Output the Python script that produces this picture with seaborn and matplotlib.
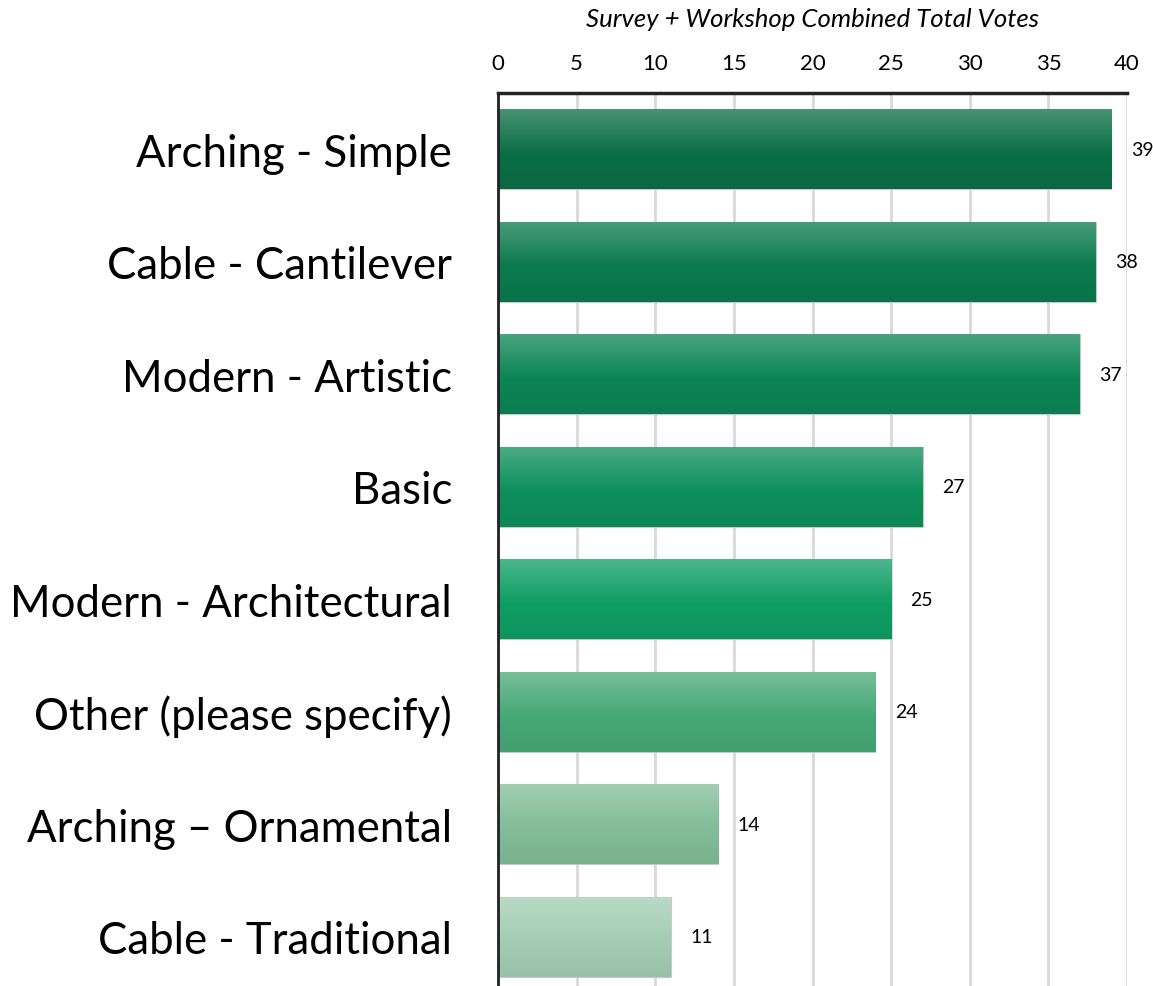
import numpy as np
import pandas as pd
import matplotlib
matplotlib.use("Agg")
import matplotlib.pyplot as plt
import matplotlib.colors as mcolors
import seaborn as sns

# data
categories = ["Arching - Simple", "Cable - Cantilever", "Modern - Artistic", "Basic",
              "Modern - Architectural", "Other (please specify)",
              "Arching \u2013 Ornamental", "Cable - Traditional"]
votes = [39, 38, 37, 27, 25, 24, 14, 11]
bar_colors = ["#0b6e46", "#0b7a4e", "#0c8556", "#0d8f5b",
              "#0e9e63", "#48a877", "#82bd98", "#a3cdb3"]
x_ticks = [0, 5, 10, 15, 20, 25, 30, 35, 40]
x_title = "Survey + Workshop Combined Total Votes"

sns.set_style("white")
plt.rcParams["font.family"] = ["Lato", "DejaVu Sans"]
plt.rcParams["text.color"] = "black"
plt.rcParams["xtick.color"] = "black"
plt.rcParams["ytick.color"] = "black"
plt.rcParams["axes.labelcolor"] = "black"

df = pd.DataFrame({"category": categories, "votes": votes})

fig = plt.figure(figsize=(11.53, 9.87), dpi=100)
ax = fig.add_axes([0.4319, -0.0071, 0.5456, 0.9119])

sns.barplot(data=df, x="votes", y="category", hue="category",
            palette=bar_colors, legend=False, width=0.71, orient="h",
            edgecolor="#c8c8c8", linewidth=0.8, ax=ax, zorder=2)


def shade(color, amount):
    c = np.array(mcolors.to_rgb(color))
    if amount > 0:
        return c + (1 - c) * amount
    return c * (1 + amount)


# vertical gradient on each bar (lighter top -> base -> slightly darker bottom)
for patch, col in zip(ax.patches, bar_colors):
    x0, y0 = patch.get_x(), patch.get_y()
    w, h = patch.get_width(), patch.get_height()
    stops = np.linspace(0, 1, 60)
    top = shade(col, 0.25)
    base = shade(col, 0.0)
    bottom = shade(col, -0.06)
    rows = []
    for s in stops:
        if s < 0.55:
            t = s / 0.55
            rows.append(top * (1 - t) + base * t)
        else:
            t = (s - 0.55) / 0.45
            rows.append(base * (1 - t) + bottom * t)
    img = np.array(rows).reshape(-1, 1, 3)
    im = ax.imshow(img, extent=[x0, x0 + w, y0 + h, y0], aspect="auto",
                   zorder=2.5, interpolation="bilinear")
    im.set_clip_path(patch)

ax.set_xlim(0, 40)
ax.set_ylim(len(categories) - 0.5, -0.5)

for cont in ax.containers:
    ax.bar_label(cont, padding=14, fontsize=14, color="black")

ax.xaxis.tick_top()
ax.xaxis.set_label_position("top")
ax.set_xticks(x_ticks)
ax.tick_params(axis="x", length=0, labelsize=16, pad=14.5)
ax.tick_params(axis="y", length=0, labelsize=31.5, pad=33)
ax.set_xlabel(x_title, fontsize=18.5, style="italic", labelpad=19)
ax.set_ylabel("")

ax.grid(axis="x", color="#d9d9d9", linewidth=2, zorder=0)
ax.set_axisbelow(True)
for side in ["right", "bottom"]:
    ax.spines[side].set_visible(False)
ax.spines["top"].set_color("#222222")
ax.spines["top"].set_linewidth(2.5)
ax.spines["left"].set_color("#222222")
ax.spines["left"].set_linewidth(2)

fig.savefig("out.png", dpi=100)
